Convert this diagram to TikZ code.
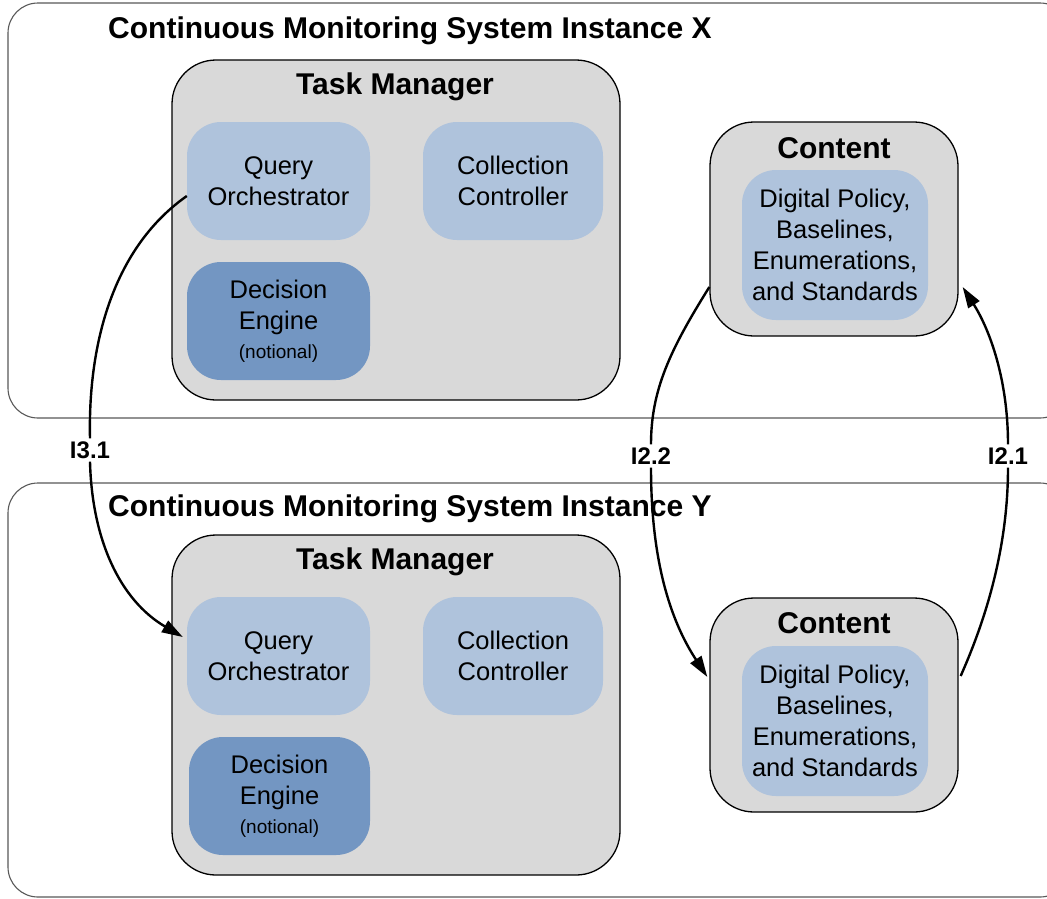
\documentclass[tikz,border=0pt]{standalone}
\usepackage{fontspec}
\setmainfont{Liberation Sans}
\usetikzlibrary{arrows.meta,calc}
\definecolor{boxgrey}{HTML}{D9D9D9}
\definecolor{lightblue}{HTML}{AFC3DC}
\definecolor{darkblue}{HTML}{7396C2}
\tikzset{
  instbox/.style={draw=black!65, line width=1.1pt, rounded corners=30pt},
  tmbox/.style={draw=black, line width=1.3pt, fill=boxgrey, rounded corners=44pt, minimum width=448pt, minimum height=340pt, inner sep=0pt},
  contbox/.style={draw=black, line width=1.3pt, fill=boxgrey, rounded corners=44pt, minimum width=248pt, minimum height=214pt, inner sep=0pt},
  lbox/.style={fill=lightblue, rounded corners=34pt, minimum width=183pt, minimum height=118pt, inner sep=0pt, align=center, font=\fontsize{25.5}{31}\selectfont},
  dbox/.style={lbox, fill=darkblue},
  ibox/.style={lbox, minimum width=186pt, minimum height=150pt},
  titlebig/.style={font=\bfseries\fontsize{30}{36}\selectfont, inner sep=0pt},
  lbl/.style={font=\bfseries\fontsize{24}{28}\selectfont, fill=white, inner sep=3pt},
  linkline/.style={line width=2.4pt},
  flow/.style={linkline, -{Triangle[length=21pt,width=13pt]}},
}
\newcommand{\notional}{\\[-2pt]{\fontsize{19}{23}\selectfont (notional)}}
\begin{document}
\begin{tikzpicture}[x=1pt,y=-1pt]
\useasboundingbox (0,0) rectangle (1047,898);
\fill[white] (0,0) rectangle (1047,898);
% Instance X
\draw[instbox] (8,3) rectangle (1070,418);
\node[titlebig, anchor=west] (tx) at (108,31) {Continuous Monitoring System Instance X};
\node[tmbox] (tmx) at (396,230) {};
\node[titlebig] (tmxt) at (395,87) {Task Manager};
\node[lbox] (qx) at (278.5,181) {Query\\Orchestrator};
\node[lbox, minimum width=180pt] (ccx) at (513,181) {Collection\\Controller};
\node[dbox] (dex) at (278.5,321) {Decision\\Engine\notional};
\node[contbox] (cx) at (834,229) {};
\node[titlebig] (cxt) at (834,148) {Content};
\node[ibox] (cix) at (835,245) {Digital Policy,\\Baselines,\\Enumerations,\\and Standards};
% Instance Y
\draw[instbox] (8,483) rectangle (1070,897);
\node[titlebig, anchor=west] (ty) at (108,509) {Continuous Monitoring System Instance Y};
\node[tmbox] (tmy) at (396,705) {};
\node[titlebig] (tmyt) at (395,562) {Task Manager};
\node[lbox] (qy) at (278.5,656) {Query\\Orchestrator};
\node[lbox, minimum width=180pt] (ccy) at (513,656) {Collection\\Controller};
\node[dbox, minimum width=181pt] (dey) at (279.5,796) {Decision\\Engine\notional};
\node[contbox] (cy) at (834,705) {};
\node[titlebig] (cyt) at (834,623) {Content};
\node[ibox] (ciy) at (835,721) {Digital Policy,\\Baselines,\\Enumerations,\\and Standards};
% connectors
\node[lbl] (l31) at (90,450) {I3.1};
\node[lbl] (l22) at (651,456) {I2.2};
\node[lbl] (l21) at (1008,456) {I2.1};
\draw[linkline] ($(qx.west)+(0,15)$) .. controls (110,250) and (88,350) .. (l31.north);
\draw[flow] (l31.south) .. controls (92,540) and (120,600) .. ($(qy.west)+(-4,-19)$);
\draw[linkline] ($(cx.west)+(0,58)$) .. controls (670,350) and (651,390) .. (l22.north);
\draw[flow] (l22.south) .. controls (651,560) and (670,620) .. ($(cy.west)+(-2,-28)$);
\draw[linkline] ($(cy.east)+(2,-29)$) .. controls (990,610) and (1008,540) .. (l21.south);
\draw[flow] (l21.north) .. controls (1008,380) and (990,330) .. ($(cx.east)+(4,58)$);
\end{tikzpicture}
\end{document}
